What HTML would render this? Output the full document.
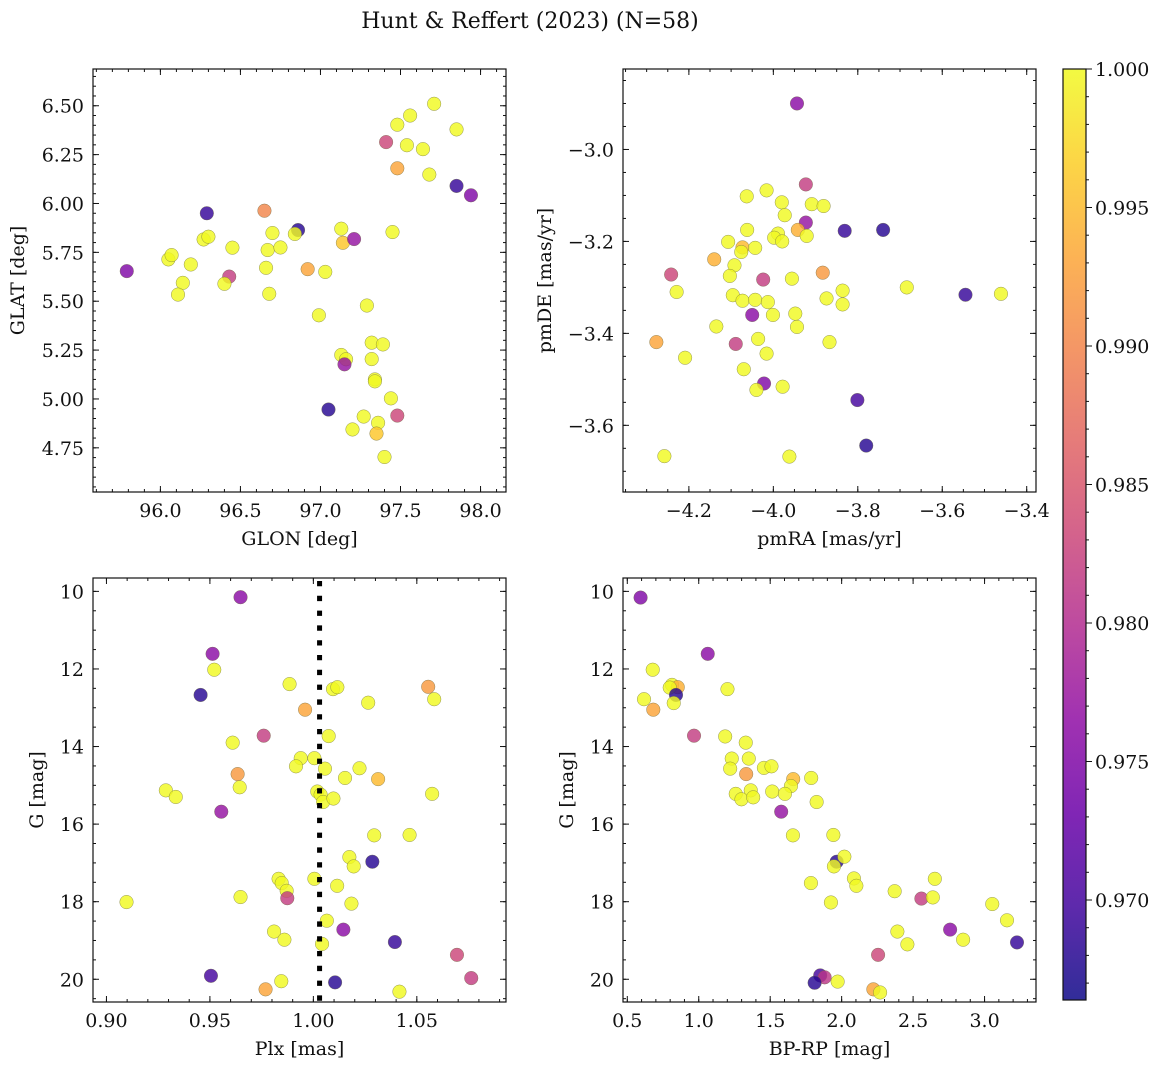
<!DOCTYPE html>
<html><head><meta charset="utf-8"><style>
body{margin:0;background:#fff;}
svg text{font-family:"DejaVu Serif","Liberation Serif",serif;fill:#111;}
</style></head><body>
<svg id="fig" width="1161" height="1068" xmlns="http://www.w3.org/2000/svg">
<text x="530" y="28" font-size="22" text-anchor="middle">Hunt &amp; Reffert (2023) (N=58)</text>
</svg>
<script>
// ---------- Panel 1 data: GLON / GLAT ----------
const glon=[95.79,96.05,96.07,96.19,96.14,96.11,96.27,96.30,96.29,96.45,96.43,96.40,96.65,96.70,96.67,96.75,96.66,96.68,96.86,96.84,96.92,97.03,96.99,97.05,97.13,97.14,97.21,97.29,97.13,97.16,97.15,97.32,97.39,97.32,97.34,97.34,97.44,97.48,97.27,97.20,97.36,97.35,97.40,97.45,97.41,97.48,97.48,97.56,97.54,97.64,97.68,97.71,97.85,97.85,97.94];
const glat=[5.654,5.714,5.736,5.688,5.594,5.534,5.816,5.830,5.950,5.774,5.626,5.589,5.963,5.849,5.762,5.775,5.671,5.538,5.864,5.844,5.664,5.650,5.428,4.946,5.871,5.799,5.818,5.478,5.225,5.203,5.177,5.288,5.279,5.204,5.100,5.090,5.003,4.915,4.910,4.844,4.878,4.823,4.703,5.854,6.314,6.180,6.403,6.450,6.298,6.278,6.148,6.510,6.379,6.090,6.042];
const prob1=[0.975,1,1,1,1,1,1,1,0.969,1,0.982,1,0.990,1,1,1,1,1,0.968,1,0.993,1,1,0.968,1,0.996,0.977,1,1,1,0.977,1,1,1,1,1,1,0.983,1,1,1,0.996,1,1,0.983,0.993,1,1,1,1,1,1,1,0.969,0.975];
// ---------- Panel 2 data: pmRA / pmDE ----------
const pmra=[-3.944,-3.923,-4.016,-4.063,-3.980,-3.909,-3.881,-3.973,-3.923,-3.942,-3.831,-3.740,-4.062,-3.989,-3.998,-3.979,-3.921,-4.107,-4.073,-4.076,-4.043,-4.140,-4.092,-4.242,-4.103,-4.024,-3.956,-3.883,-4.229,-4.096,-4.073,-4.043,-4.013,-3.874,-3.836,-3.836,-3.684,-3.545,-3.461,-4.050,-4.001,-3.948,-3.944,-4.135,-4.277,-4.089,-4.036,-3.867,-4.209,-4.016,-4.070,-4.022,-4.040,-3.978,-3.801,-3.780,-4.258,-3.962];
const pmde=[-2.900,-3.076,-3.089,-3.102,-3.115,-3.119,-3.123,-3.143,-3.159,-3.175,-3.177,-3.175,-3.175,-3.183,-3.192,-3.200,-3.188,-3.201,-3.213,-3.223,-3.214,-3.239,-3.252,-3.272,-3.275,-3.283,-3.281,-3.268,-3.310,-3.317,-3.329,-3.327,-3.332,-3.324,-3.307,-3.337,-3.300,-3.316,-3.314,-3.360,-3.360,-3.357,-3.386,-3.385,-3.419,-3.423,-3.412,-3.419,-3.453,-3.444,-3.478,-3.509,-3.523,-3.516,-3.545,-3.644,-3.667,-3.668];
const prob2=[0.976,0.982,1,1,1,1,1,1,0.977,0.994,0.969,0.968,1,1,1,1,1,1,0.995,1,1,0.994,1,0.983,1,0.982,1,0.992,1,1,1,1,1,1,1,1,1,0.969,1,0.976,1,1,1,1,0.993,0.982,1,1,1,1,1,0.975,1,1,0.970,0.968,1,1];
// ---------- Panel 3 data: Plx / G ----------
const plx=[0.9648,0.9513,0.9521,0.9885,0.9455,1.0095,1.0116,1.0555,1.0584,1.0265,0.9960,0.9760,1.0074,0.9610,0.9939,1.0005,0.9916,1.0056,1.0223,0.9634,1.0153,1.0313,0.9644,0.9287,0.9335,1.0019,1.0035,1.0047,1.0097,1.0574,0.9555,1.0294,1.0465,1.0174,1.0195,1.0285,0.9832,0.9847,0.9871,0.9874,1.0005,1.0115,0.9648,0.9097,1.0184,1.0065,1.0145,0.9810,0.9860,1.0042,1.0394,1.0694,0.9505,0.9845,1.0105,1.0763,0.9769,1.0416];
const gmag3=[10.15,11.61,12.02,12.39,12.67,12.52,12.47,12.46,12.78,12.87,13.05,13.72,13.73,13.90,14.30,14.30,14.51,14.57,14.56,14.71,14.81,14.84,15.05,15.13,15.30,15.16,15.24,15.43,15.34,15.22,15.68,16.29,16.28,16.85,17.09,16.97,17.41,17.52,17.72,17.91,17.41,17.59,17.88,18.01,18.05,18.49,18.72,18.77,18.98,19.09,19.04,19.37,19.91,20.05,20.08,19.97,20.26,20.32];
const prob3=[0.976,0.976,1,1,0.968,1,1,0.992,1,1,0.993,0.982,1,1,1,1,1,1,1,0.992,1,0.995,1,1,1,1,1,1,1,1,0.977,1,1,1,1,0.968,1,1,1,0.982,1,1,1,1,1,1,0.976,1,1,1,0.969,0.983,0.970,1,0.968,0.982,0.993,1];
const plxRef=[1.003];
// ---------- Panel 4 data: BP-RP / G ----------
const bprp=[0.593,1.063,0.678,0.813,0.853,0.797,0.841,1.201,0.617,0.825,0.682,0.967,1.185,1.329,1.231,1.350,1.220,1.456,1.509,1.332,1.661,1.787,1.645,1.364,1.259,1.299,1.381,1.514,1.603,1.825,1.577,1.659,1.942,1.965,2.019,1.946,1.785,2.086,2.103,1.925,2.371,2.652,2.558,2.638,3.054,3.157,2.759,2.390,2.460,2.850,3.227,2.255,1.850,1.881,1.811,1.972,2.222,2.269];
const gmag4=[10.16,11.61,12.02,12.41,12.47,12.48,12.67,12.52,12.78,12.88,13.05,13.72,13.74,13.90,14.31,14.31,14.57,14.55,14.51,14.71,14.84,14.81,15.02,15.13,15.22,15.36,15.31,15.16,15.22,15.43,15.68,16.29,16.28,16.97,16.84,17.09,17.52,17.40,17.59,18.02,17.73,17.41,17.92,17.89,18.06,18.48,18.72,18.77,19.10,18.98,19.05,19.37,19.90,19.95,20.09,20.06,20.26,20.34];
const prob4=[0.975,0.976,1,1,0.994,1,0.968,1,1,1,0.993,0.982,1,1,1,1,1,1,1,0.992,0.995,1,1,1,1,1,1,1,1,1,0.977,1,1,0.968,1,1,1,1,1,1,1,1,0.982,1,1,1,0.976,1,1,1,0.969,0.983,0.970,0.981,0.968,1,0.993,1];
// ---------- Ticks ----------
const ticks1x=[96.0,96.5,97.0,97.5,98.0], ticks1y=[4.75,5.00,5.25,5.50,5.75,6.00,6.25,6.50];
const ticks2x=[-4.2,-4.0,-3.8,-3.6,-3.4], ticks2y=[-3.6,-3.4,-3.2,-3.0];
const ticks3x=[0.90,0.95,1.00,1.05], ticksGy=[10,12,14,16,18,20];
const ticks4x=[0.5,1.0,1.5,2.0,2.5,3.0];
const cbTicks=[0.970,0.975,0.980,0.985,0.990,0.995,1.000];
const vmin=0.96639, vmax=1.0;

const NS="http://www.w3.org/2000/svg";
const svg=document.getElementById('fig');
function mk(tag,attrs,parent){const e=document.createElementNS(NS,tag);for(const k in attrs)e.setAttribute(k,attrs[k]);(parent||svg).appendChild(e);return e;}
const plasma=[[0,13,8,135],[0.1,65,4,157],[0.2,106,0,168],[0.3,143,13,164],[0.4,177,42,144],[0.5,204,71,120],[0.6,225,100,98],[0.7,242,132,75],[0.8,252,166,54],[0.9,252,206,37],[1,240,249,33]];
function cmap(t){t=Math.max(0,Math.min(1,t));for(let i=1;i<plasma.length;i++){if(t<=plasma[i][0]){const a=plasma[i-1],b=plasma[i],f=(t-a[0])/(b[0]-a[0]);return `rgb(${Math.round(a[1]+f*(b[1]-a[1]))},${Math.round(a[2]+f*(b[2]-a[2]))},${Math.round(a[3]+f*(b[3]-a[3]))})`;}}return 'rgb(240,249,33)';}
function fmt(v,d){return (v<0?'\u2212':'')+Math.abs(v).toFixed(d);}
const FS=19;

function panel(o){
  const g=mk('g',{});
  
  
  const sx=v=>o.x+(v-o.xr[0])/(o.xr[1]-o.xr[0])*o.w;
  const sy=v=>o.y+(v-o.yr[0])/(o.yr[1]-o.yr[0])*o.h;
  const pg=mk('g',{},g);
  
  
  for(let i=0;i<o.xs.length;i++){
    const c=mk('circle',{cx:sx(o.xs[i]),cy:sy(o.ys[i]),r:6.8,fill:cmap((o.ps[i]-vmin)/(vmax-vmin)),'fill-opacity':0.82,stroke:'#6a6a40','stroke-width':0.5,'stroke-opacity':0.7},pg);
    
    
  }
  if(o.extra)o.extra(g,sx,sy);
  const fr=mk('rect',{x:o.x,y:o.y,width:o.w,height:o.h,fill:'none',stroke:'#111','stroke-width':1.2},g);
  
  
  const tk=mk('g',{stroke:'#111','stroke-width':1},g);
  const mx0=Math.ceil(Math.min(...o.xr)/o.mx-1e-6),mx1=Math.floor(Math.max(...o.xr)/o.mx+1e-6);
  for(let k=mx0;k<=mx1;k++){const X=sx(k*o.mx);mk('line',{x1:X,x2:X,y1:o.y+o.h,y2:o.y+o.h-3},tk);mk('line',{x1:X,x2:X,y1:o.y,y2:o.y+3},tk);}
  const my0=Math.ceil(Math.min(...o.yr)/o.my-1e-6),my1=Math.floor(Math.max(...o.yr)/o.my+1e-6);
  for(let k=my0;k<=my1;k++){const Y=sy(k*o.my);mk('line',{x1:o.x,x2:o.x+3,y1:Y,y2:Y},tk);mk('line',{x1:o.x+o.w,x2:o.x+o.w-3,y1:Y,y2:Y},tk);}
  o.tx.forEach(v=>{const X=sx(v);mk('line',{x1:X,x2:X,y1:o.y+o.h,y2:o.y+o.h-6},tk);mk('line',{x1:X,x2:X,y1:o.y,y2:o.y+6},tk);
    const t=mk('text',{x:X,y:o.y+o.h+25,'font-size':FS,'text-anchor':'middle'},g);t.textContent=fmt(v,o.dx);
    
    });
  o.ty.forEach(v=>{const Y=sy(v);mk('line',{x1:o.x,x2:o.x+6,y1:Y,y2:Y},tk);mk('line',{x1:o.x+o.w,x2:o.x+o.w-6,y1:Y,y2:Y},tk);
    const t=mk('text',{x:o.x-9,y:Y+7,'font-size':FS,'text-anchor':'end'},g);t.textContent=fmt(v,o.dy);
    
    });
  const xl=mk('text',{x:o.x+o.w/2,y:o.y+o.h+53,'font-size':FS,'text-anchor':'middle'},g);xl.textContent=o.xl;
  
  
  const yx=o.ylx, yy=o.y+o.h/2;
  const yl=mk('text',{x:yx,y:yy,'font-size':FS,'text-anchor':'middle',transform:`rotate(-90 ${yx} ${yy})`},g);yl.textContent=o.yl;
  
  
}
panel({name:'glon-glat-panel',x:93,y:69,w:413,h:423,xr:[95.579,98.159],yr:[6.688,4.524],xs:glon,ys:glat,ps:prob1,tx:ticks1x,ty:ticks1y,dx:1,dy:2,mx:0.1,my:0.05,xl:'GLON [deg]',yl:'GLAT [deg]',ylx:24});
panel({name:'proper-motion-panel',x:623,y:69,w:413,h:423,xr:[-4.356,-3.378],yr:[-2.825,-3.745],xs:pmra,ys:pmde,ps:prob2,tx:ticks2x,ty:ticks2y,dx:1,dy:1,mx:0.05,my:0.05,xl:'pmRA [mas/yr]',yl:'pmDE [mas/yr]',ylx:551});
panel({name:'parallax-mag-panel',x:93,y:578,w:413,h:424,xr:[0.8935,1.0931],yr:[9.655,20.586],xs:plx,ys:gmag3,ps:prob3,tx:ticks3x,ty:ticksGy,dx:2,dy:0,mx:0.01,my:0.5,xl:'Plx [mas]',yl:'G [mag]',ylx:43,
  extra:(g,sx,sy)=>{const l=mk('line',{x1:sx(plxRef[0]),x2:sx(plxRef[0]),y1:581,y2:1002,stroke:'#000','stroke-width':5,'stroke-dasharray':'5.3 9.5'},g);
    
    }});
panel({name:'cmd-panel',x:623,y:578,w:413,h:424,xr:[0.470,3.360],yr:[9.655,20.586],xs:bprp,ys:gmag4,ps:prob4,tx:ticks4x,ty:ticksGy,dx:1,dy:0,mx:0.1,my:0.5,xl:'BP-RP [mag]',yl:'G [mag]',ylx:573});

const cb=mk('g',{});


const defs=mk('defs',{},cb);
const lg=mk('linearGradient',{id:'pl',x1:0,y1:1,x2:0,y2:0},defs);
plasma.forEach(s=>mk('stop',{offset:s[0],'stop-color':`rgb(${s[1]},${s[2]},${s[3]})`,'stop-opacity':0.85},lg));
const cbx=1063,cby=69,cbw=23,cbh=931;
mk('rect',{x:cbx,y:cby,width:cbw,height:cbh,fill:'url(#pl)',stroke:'#111','stroke-width':1.2},cb);
const cs=v=>cby+(vmax-v)/(vmax-vmin)*cbh;
for(let v=0.967;v<=1.0001;v+=0.001){const Y=cs(v);mk('line',{x1:cbx+cbw,x2:cbx+cbw+3,y1:Y,y2:Y,stroke:'#111'},cb);}
cbTicks.forEach(v=>{const Y=cs(v);mk('line',{x1:cbx+cbw,x2:cbx+cbw+6,y1:Y,y2:Y,stroke:'#111'},cb);
  const t=mk('text',{x:cbx+cbw+9,y:Y+7,'font-size':FS},cb);t.textContent=v.toFixed(3);
  
  });
</script>
</body></html>
